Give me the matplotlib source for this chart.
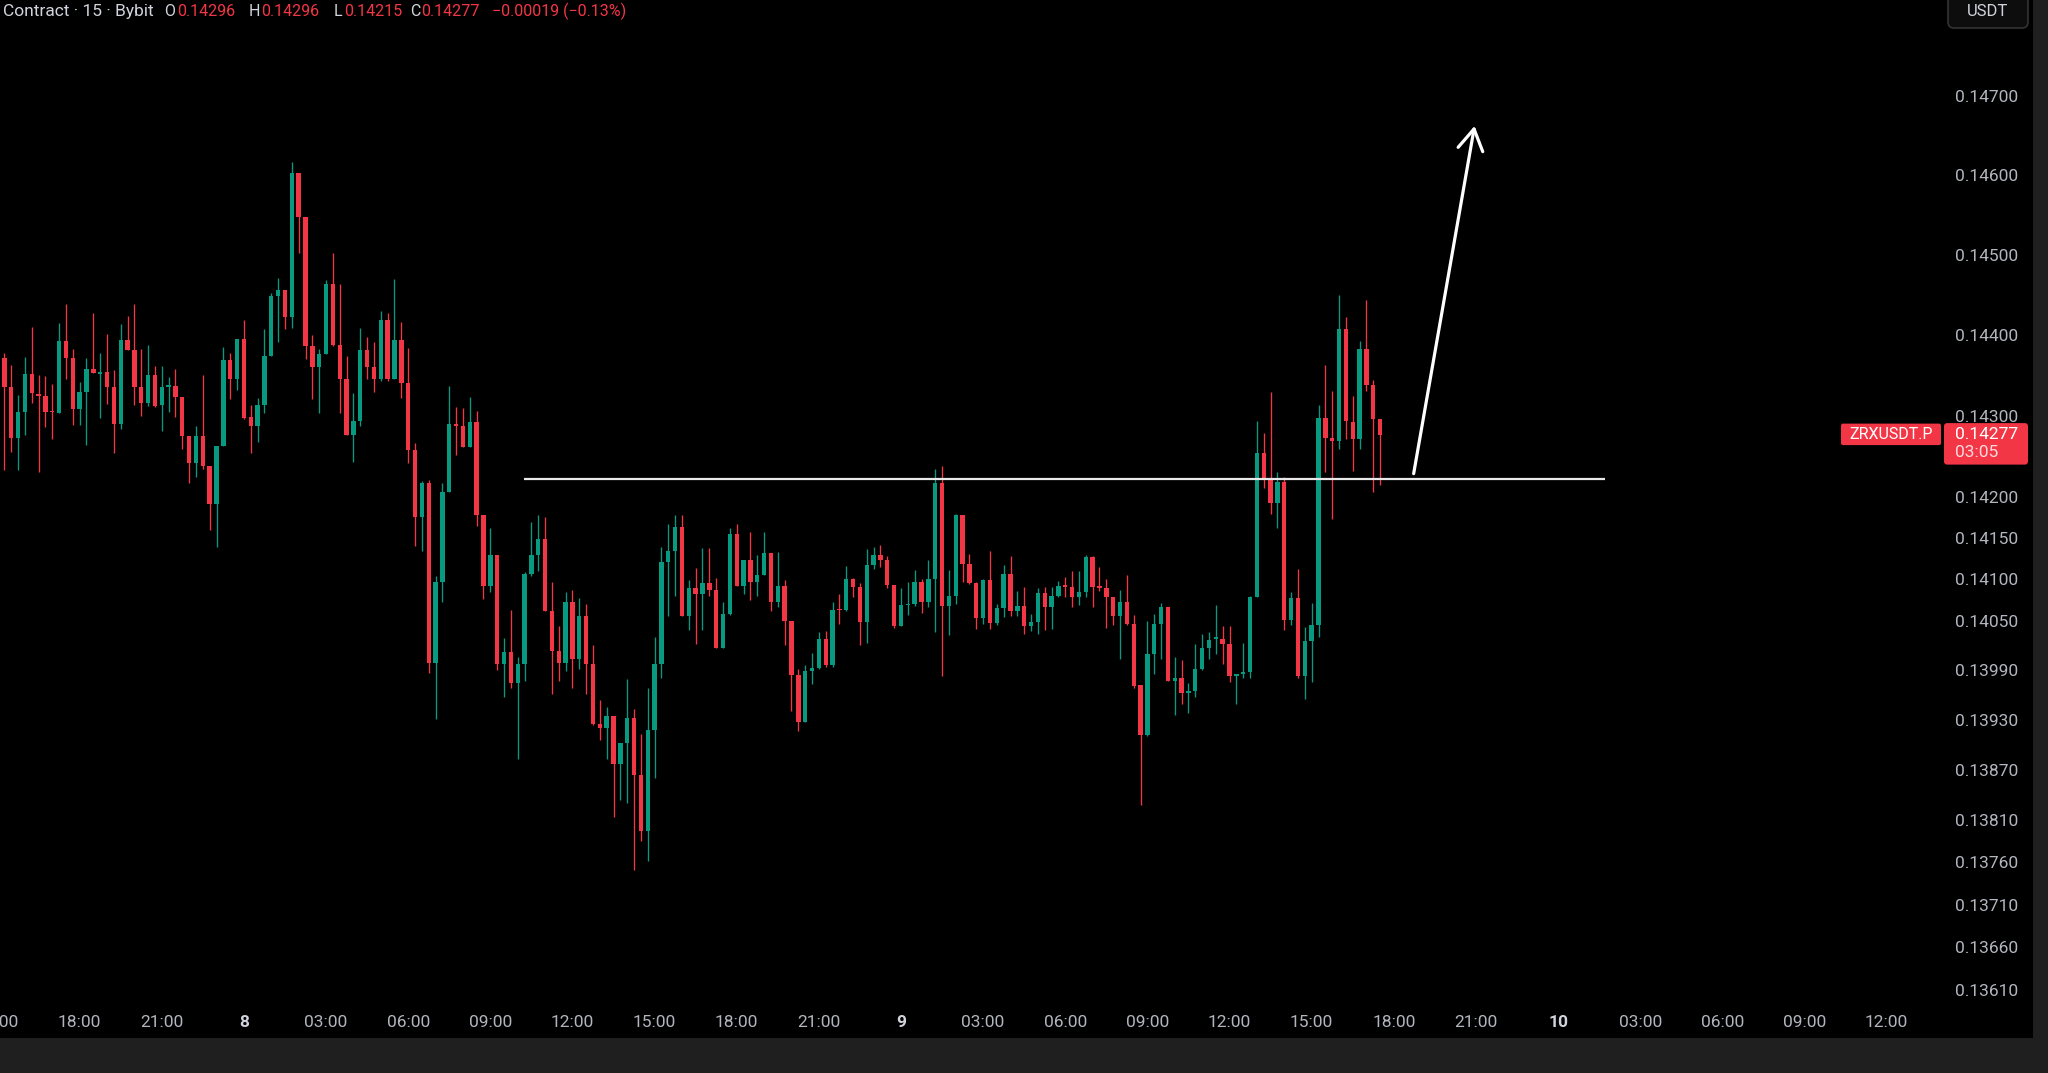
import matplotlib
matplotlib.use("Agg")
import matplotlib.pyplot as plt
import numpy as np
import pandas as pd
from matplotlib.patches import Rectangle, FancyBboxPatch
from matplotlib.transforms import IdentityTransform
from matplotlib.ticker import NullLocator, FixedLocator, NullFormatter

plt.rcParams['font.family'] = ['Roboto', 'DejaVu Sans']

# ---------------- data ----------------
symbol = "ZRXUSDT.P"
header_prefix = "Contract · 15 · Bybit"
start_time = pd.Timestamp("2025-01-07 15:00")
bar_minutes = 15
countdown = "03:05"

opens = [0.14400, 0.14371, 0.14336, 0.14273, 0.14305, 0.14352, 0.14327, 0.14325, 0.14306, 0.14304,
         0.14393, 0.14371, 0.14308, 0.14329, 0.14358, 0.14352, 0.14354, 0.14336, 0.14290, 0.14394,
         0.14381, 0.14336, 0.14316, 0.14350, 0.14313, 0.14336, 0.14337, 0.14323, 0.14275, 0.14242,
         0.14275, 0.14238, 0.14192, 0.14263, 0.14369, 0.14346, 0.14395, 0.14299, 0.14288, 0.14313,
         0.14374, 0.14449, 0.14456, 0.14422, 0.14602, 0.14547, 0.14387, 0.14360, 0.14377, 0.14464,
         0.14388, 0.14345, 0.14276, 0.14294, 0.14382, 0.14360, 0.14345, 0.14419, 0.14346, 0.14394,
         0.14341, 0.14258, 0.14176, 0.14217, 0.13999, 0.14097, 0.14207, 0.14290, 0.14288, 0.14262,
         0.14293, 0.14179, 0.14092, 0.14129, 0.13997, 0.14012, 0.13975, 0.13998, 0.14107, 0.14130,
         0.14149, 0.14062, 0.14013, 0.13999, 0.14072, 0.14003, 0.14055, 0.13997, 0.13925, 0.13920,
         0.13935, 0.13877, 0.13902, 0.13933, 0.13864, 0.13797, 0.13918, 0.13997, 0.14121, 0.14134,
         0.14164, 0.14055, 0.14089, 0.14082, 0.14096, 0.14087, 0.14017, 0.14058, 0.14155, 0.14092,
         0.14123, 0.14097, 0.14105, 0.14132, 0.14073, 0.14092, 0.14049, 0.13984, 0.13928, 0.13989,
         0.13993, 0.14028, 0.13996, 0.14064, 0.14063, 0.14101, 0.14091, 0.14048, 0.14118, 0.14130,
         0.14124, 0.14093, 0.14043, 0.14069, 0.14070, 0.14097, 0.14072, 0.14100, 0.14217, 0.14068,
         0.14080, 0.14178, 0.14119, 0.14095, 0.14053, 0.14099, 0.14047, 0.14065, 0.14107, 0.14062,
         0.14068, 0.14043, 0.14048, 0.14083, 0.14067, 0.14080, 0.14093, 0.14091, 0.14078, 0.14084,
         0.14127, 0.14092, 0.14090, 0.14078, 0.14056, 0.14072, 0.14046, 0.13972, 0.13912, 0.14010,
         0.14046, 0.14067, 0.13977, 0.13980, 0.13962, 0.13965, 0.13992, 0.14017, 0.14028, 0.14028,
         0.14022, 0.13983, 0.13985, 0.13988, 0.14079, 0.14254, 0.14224, 0.14193, 0.14219, 0.14051,
         0.14077, 0.13983, 0.14025, 0.14045, 0.14298, 0.14273, 0.14269, 0.14408, 0.14293, 0.14271,
         0.14383, 0.14338, 0.14296]

highs = [0.14516, 0.14378, 0.14363, 0.14326, 0.14373, 0.14410, 0.14350, 0.14349, 0.14339, 0.14415,
         0.14439, 0.14383, 0.14342, 0.14372, 0.14428, 0.14378, 0.14401, 0.14357, 0.14414, 0.14424,
         0.14439, 0.14383, 0.14388, 0.14362, 0.14362, 0.14348, 0.14358, 0.14323, 0.14275, 0.14288,
         0.14351, 0.14238, 0.14263, 0.14385, 0.14378, 0.14395, 0.14419, 0.14313, 0.14322, 0.14408,
         0.14452, 0.14471, 0.14456, 0.14617, 0.14602, 0.14547, 0.14400, 0.14383, 0.14469, 0.14502,
         0.14463, 0.14374, 0.14328, 0.14409, 0.14398, 0.14392, 0.14430, 0.14428, 0.14470, 0.14416,
         0.14384, 0.14267, 0.14220, 0.14221, 0.14104, 0.14218, 0.14337, 0.14311, 0.14310, 0.14323,
         0.14306, 0.14179, 0.14162, 0.14129, 0.14029, 0.14063, 0.14006, 0.14109, 0.14170, 0.14179,
         0.14176, 0.14097, 0.14043, 0.14085, 0.14087, 0.14077, 0.14070, 0.14020, 0.13954, 0.13946,
         0.13935, 0.13902, 0.13979, 0.13943, 0.13913, 0.13969, 0.14030, 0.14139, 0.14168, 0.14179,
         0.14178, 0.14099, 0.14114, 0.14138, 0.14138, 0.14102, 0.14073, 0.14162, 0.14168, 0.14124,
         0.14158, 0.14129, 0.14158, 0.14132, 0.14133, 0.14099, 0.14049, 0.13992, 0.13996, 0.14011,
         0.14036, 0.14037, 0.14073, 0.14082, 0.14116, 0.14102, 0.14095, 0.14137, 0.14139, 0.14142,
         0.14128, 0.14093, 0.14089, 0.14097, 0.14111, 0.14100, 0.14123, 0.14235, 0.14238, 0.14111,
         0.14180, 0.14178, 0.14131, 0.14097, 0.14100, 0.14135, 0.14070, 0.14117, 0.14128, 0.14086,
         0.14091, 0.14058, 0.14089, 0.14091, 0.14091, 0.14098, 0.14103, 0.14110, 0.14110, 0.14129,
         0.14128, 0.14115, 0.14100, 0.14079, 0.14087, 0.14105, 0.14057, 0.13972, 0.14049, 0.14058,
         0.14071, 0.14067, 0.14006, 0.14002, 0.13974, 0.14022, 0.14034, 0.14036, 0.14069, 0.14043,
         0.14043, 0.13985, 0.14023, 0.14080, 0.14294, 0.14279, 0.14329, 0.14231, 0.14225, 0.14085,
         0.14112, 0.14042, 0.14071, 0.14313, 0.14363, 0.14331, 0.14450, 0.14423, 0.14324, 0.14393,
         0.14444, 0.14344, 0.14296]

lows = [0.14233, 0.14233, 0.14256, 0.14233, 0.14277, 0.14316, 0.14231, 0.14286, 0.14272, 0.14304,
        0.14345, 0.14289, 0.14289, 0.14264, 0.14353, 0.14298, 0.14315, 0.14254, 0.14284, 0.14381,
        0.14314, 0.14300, 0.14312, 0.14311, 0.14281, 0.14305, 0.14299, 0.14259, 0.14217, 0.14225,
        0.14235, 0.14160, 0.14139, 0.14263, 0.14321, 0.14332, 0.14296, 0.14254, 0.14268, 0.14303,
        0.14374, 0.14391, 0.14407, 0.14409, 0.14502, 0.14370, 0.14321, 0.14304, 0.14376, 0.14386,
        0.14303, 0.14276, 0.14243, 0.14287, 0.14346, 0.14330, 0.14343, 0.14343, 0.14346, 0.14322,
        0.14242, 0.14140, 0.14135, 0.13986, 0.13931, 0.14072, 0.14207, 0.14252, 0.14262, 0.14262,
        0.14165, 0.14076, 0.14084, 0.13990, 0.13958, 0.13969, 0.13883, 0.13977, 0.14104, 0.14110,
        0.14061, 0.13961, 0.13977, 0.13989, 0.13968, 0.13992, 0.13961, 0.13924, 0.13906, 0.13883,
        0.13814, 0.13834, 0.13831, 0.13751, 0.13786, 0.13762, 0.13860, 0.13981, 0.14055, 0.14080,
        0.14055, 0.14038, 0.14022, 0.14039, 0.14080, 0.14017, 0.14017, 0.14057, 0.14092, 0.14082,
        0.14075, 0.14080, 0.14105, 0.14061, 0.14067, 0.14021, 0.13941, 0.13917, 0.13928, 0.13973,
        0.13992, 0.13994, 0.13994, 0.14046, 0.14061, 0.14078, 0.14021, 0.14023, 0.14113, 0.14115,
        0.14090, 0.14041, 0.14043, 0.14057, 0.14068, 0.14059, 0.14066, 0.14036, 0.13983, 0.14033,
        0.14070, 0.14097, 0.14094, 0.14040, 0.14046, 0.14040, 0.14045, 0.14054, 0.14056, 0.14056,
        0.14034, 0.14037, 0.14034, 0.14038, 0.14040, 0.14079, 0.14078, 0.14066, 0.14069, 0.14078,
        0.14066, 0.14086, 0.14041, 0.14044, 0.14004, 0.14045, 0.13968, 0.13828, 0.13911, 0.13985,
        0.14004, 0.13977, 0.13936, 0.13949, 0.13939, 0.13958, 0.13990, 0.14003, 0.14009, 0.13998,
        0.13976, 0.13949, 0.13980, 0.13981, 0.14078, 0.14211, 0.14180, 0.14162, 0.14039, 0.14045,
        0.13981, 0.13955, 0.13976, 0.14030, 0.14231, 0.14173, 0.14259, 0.14271, 0.14232, 0.14259,
        0.14331, 0.14206, 0.14215]

closes = [0.14373, 0.14336, 0.14273, 0.14305, 0.14352, 0.14328, 0.14325, 0.14305, 0.14305, 0.14393,
          0.14371, 0.14308, 0.14329, 0.14358, 0.14353, 0.14354, 0.14336, 0.14290, 0.14394, 0.14381,
          0.14336, 0.14316, 0.14350, 0.14312, 0.14336, 0.14338, 0.14323, 0.14275, 0.14242, 0.14275,
          0.14238, 0.14192, 0.14263, 0.14369, 0.14346, 0.14395, 0.14298, 0.14288, 0.14313, 0.14374,
          0.14449, 0.14456, 0.14422, 0.14602, 0.14547, 0.14387, 0.14360, 0.14377, 0.14464, 0.14388,
          0.14345, 0.14276, 0.14294, 0.14382, 0.14360, 0.14345, 0.14419, 0.14346, 0.14394, 0.14341,
          0.14258, 0.14176, 0.14217, 0.13999, 0.14097, 0.14207, 0.14290, 0.14288, 0.14262, 0.14293,
          0.14179, 0.14092, 0.14129, 0.13997, 0.14012, 0.13975, 0.13998, 0.14107, 0.14130, 0.14149,
          0.14062, 0.14013, 0.13999, 0.14072, 0.14003, 0.14055, 0.13998, 0.13925, 0.13920, 0.13935,
          0.13877, 0.13902, 0.13933, 0.13864, 0.13797, 0.13918, 0.13997, 0.14121, 0.14134, 0.14164,
          0.14055, 0.14089, 0.14082, 0.14096, 0.14087, 0.14017, 0.14058, 0.14155, 0.14092, 0.14123,
          0.14097, 0.14105, 0.14132, 0.14073, 0.14092, 0.14049, 0.13984, 0.13928, 0.13989, 0.13993,
          0.14028, 0.13996, 0.14063, 0.14063, 0.14101, 0.14091, 0.14048, 0.14118, 0.14130, 0.14124,
          0.14093, 0.14043, 0.14069, 0.14070, 0.14097, 0.14072, 0.14100, 0.14217, 0.14068, 0.14080,
          0.14178, 0.14119, 0.14095, 0.14053, 0.14099, 0.14047, 0.14065, 0.14107, 0.14062, 0.14068,
          0.14043, 0.14048, 0.14083, 0.14067, 0.14080, 0.14092, 0.14091, 0.14078, 0.14084, 0.14127,
          0.14091, 0.14090, 0.14078, 0.14056, 0.14072, 0.14046, 0.13971, 0.13912, 0.14010, 0.14046,
          0.14067, 0.13977, 0.13980, 0.13962, 0.13965, 0.13992, 0.14017, 0.14026, 0.14030, 0.14022,
          0.13983, 0.13985, 0.13988, 0.14079, 0.14254, 0.14224, 0.14193, 0.14219, 0.14051, 0.14077,
          0.13983, 0.14025, 0.14045, 0.14298, 0.14273, 0.14269, 0.14408, 0.14294, 0.14271, 0.14383,
          0.14338, 0.14296, 0.14277]

price_ticks = [0.14700, 0.14600, 0.14500, 0.14400, 0.14300, 0.14200, 0.14150, 0.14100, 0.14050,
               0.13990, 0.13930, 0.13870, 0.13810, 0.13760, 0.13710, 0.13660, 0.13610]

# drawings on the chart
level_price = 0.14222
level_from_bar, level_to_bar = 76.9, 234.9
arrow_tail = (206.9, 0.14229)
arrow_tip = (215.8, 0.14662)

# ---------------- style ----------------
GREEN = '#089981'
RED = '#F23645'
TXT = '#B2B5BE'
TXT_BRIGHT = '#D1D4DC'

W, H = 2048, 1073
fig = plt.figure(figsize=(W / 100, H / 100), dpi=100)
fig.patch.set_facecolor('#1f1f1f')


def fig_rect(x0, y0, x1, y1):
    """pixel box (top-origin) -> figure fraction rect"""
    return [x0 / W, 1 - y1 / H, (x1 - x0) / W, (y1 - y0) / H]


# black chart canvas (pane + scales)
fig.add_artist(Rectangle((0, 1 - 1038 / H), 2033 / W, 1038 / H, transform=fig.transFigure,
                         fc='black', ec='none', zorder=-5))

ax = fig.add_axes(fig_rect(-20, 0, 1940, 1005))
ax.set_facecolor('black')
for s in ax.spines.values():
    s.set_visible(False)
ax.set_yscale('log')
ax.set_ylim(0.13592, 0.14822)
ax.set_xlim(-2.557, 283.8)

O = np.array(opens)
Hh = np.array(highs)
L = np.array(lows)
C = np.array(closes)
n = len(O)
x = np.arange(n)
up = C >= O
colors = np.where(up, GREEN, RED)

ax.vlines(x, L, Hh, colors=colors, lw=0.95, zorder=2)
body_bottom = np.minimum(O, C)
body_h = np.maximum(np.abs(C - O), 0.000012)
ax.bar(x, body_h, bottom=body_bottom, width=0.64, color=colors, linewidth=0, zorder=3)

# horizontal level and arrow
ax.hlines(level_price, level_from_bar, level_to_bar, colors='#E8E8E8', lw=1.6, zorder=4)
ax.annotate('', xy=arrow_tip, xytext=arrow_tail,
            arrowprops=dict(arrowstyle='->,head_length=0.75,head_width=0.45', color='white',
                            lw=2.3, mutation_scale=20, shrinkA=0, shrinkB=0), zorder=5)

# price scale
ax.yaxis.tick_right()
ax.yaxis.set_major_locator(FixedLocator(price_ticks))
ax.yaxis.set_minor_locator(NullLocator())
ax.yaxis.set_minor_formatter(NullFormatter())
ax.set_yticklabels([f"{v:.5f}" for v in price_ticks])
ax.tick_params(axis='y', length=0, pad=11, labelsize=12.5, labelcolor=TXT)

# time scale
k = np.arange(0, 284)
t = start_time + pd.to_timedelta(k * bar_minutes, unit='min')
mask = (t.minute == 0) & (t.hour % 3 == 0)
tick_pos = k[mask]
tick_times = t[mask]
labels = [str(tt.day) if tt.hour == 0 else tt.strftime('%H:%M') for tt in tick_times]
ax.set_xticks(tick_pos)
ax.set_xticklabels(labels)
ax.tick_params(axis='x', length=0, pad=7, labelsize=12.5, labelcolor=TXT)
for lbl, tt in zip(ax.get_xticklabels(), tick_times):
    if tt.hour == 0:
        lbl.set_fontweight('bold')
        lbl.set_color(TXT_BRIGHT)

ID = IdentityTransform()

# last price labels
yp = ax.transData.transform((0, closes[-1]))[1]
fig.add_artist(FancyBboxPatch((1944, yp - 30), 84, 41.5, boxstyle='round,pad=0,rounding_size=3',
                              transform=ID, fc=RED, ec='none', zorder=6))
fig.add_artist(FancyBboxPatch((1841, yp - 10.5), 100, 21.5, boxstyle='round,pad=0,rounding_size=2',
                              transform=ID, fc=RED, ec='none', zorder=6))
fig.text(1955, yp, f"{closes[-1]:.5f}", transform=ID, color='white', fontsize=12.5,
         ha='left', va='center', zorder=7)
fig.text(1955, yp - 18, countdown, transform=ID, color='#FFD9DD', fontsize=12.5,
         ha='left', va='center', zorder=7)
fig.text(1891, yp, symbol, transform=ID, color='white', fontsize=11.5,
         ha='center', va='center', zorder=7)

# currency button
fig.add_artist(FancyBboxPatch((1948, H - 28), 80, 40, boxstyle='round,pad=0,rounding_size=6',
                              transform=ID, fc='#0d0d0d', ec='#333333', lw=1.2, zorder=6))
fig.text(1988, H - 12, "USDT", transform=ID, color=TXT_BRIGHT, fontsize=12,
         ha='center', va='center', zorder=7)

# header legend
hy = H - 11.5
chg = closes[-1] - closes[-2]
pct = chg / closes[-2] * 100
fmt_signed = lambda v, f: (("\u2212" if v < 0 else "+") + format(abs(v), f))
fig.text(3, hy, header_prefix, transform=ID, color=TXT_BRIGHT, fontsize=12.5, ha='left', va='center')
parts = [(164, "O", TXT_BRIGHT), (177, f"{opens[-1]:.5f}", RED),
         (249, "H", TXT_BRIGHT), (261, f"{highs[-1]:.5f}", RED),
         (334, "L", TXT_BRIGHT), (344, f"{lows[-1]:.5f}", RED),
         (410, "C", TXT_BRIGHT), (421, f"{closes[-1]:.5f}", RED),
         (492, f"{fmt_signed(chg, '.5f')} ({fmt_signed(pct, '.2f')}%)", RED)]
for px, s, col in parts:
    fig.text(px, hy, s, transform=ID, color=col, fontsize=11.5, ha='left', va='center')

fig.savefig('out.png', dpi=100, facecolor=fig.get_facecolor())
